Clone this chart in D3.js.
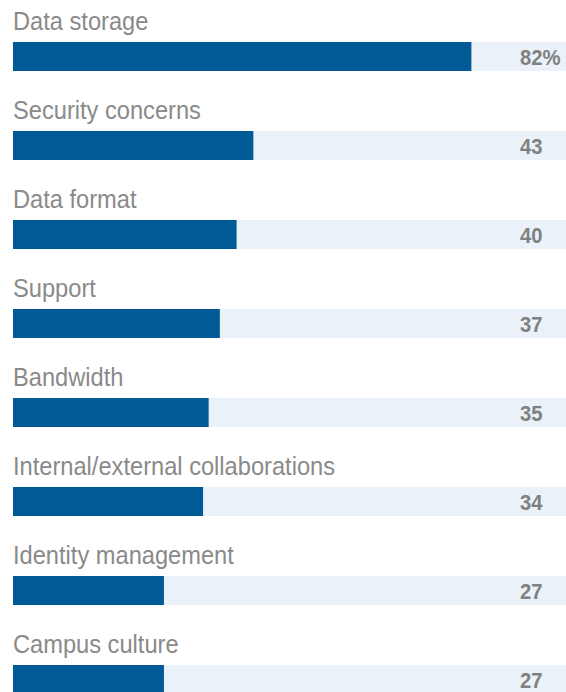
<!DOCTYPE html>
<html>
<head>
<meta charset="utf-8">
<script src="https://cdn.jsdelivr.net/npm/d3@7"></script>
<style>
  html, body { margin: 0; padding: 0; background: #ffffff; }
  svg { display: block; }
</style>
</head>
<body>
<svg id="chart" width="566" height="692"></svg>
<script>
// Survey: top challenges reported (% of respondents)
const categories = [
  "Data storage",
  "Security concerns",
  "Data format",
  "Support",
  "Bandwidth",
  "Internal/external collaborations",
  "Identity management",
  "Campus culture"
];
const values = [82, 43, 40, 37, 35, 34, 27, 27];
const valueLabels = ["82%", "43", "40", "37", "35", "34", "27", "27"];

const width = 566, height = 692;
const svg = d3.select("#chart");

const rowScale = d3.scaleBand()
  .domain(categories)
  .range([0, categories.length * 89])
  .padding(0);

const x = d3.scaleLinear()
  .domain([0, 100])
  .range([13, 572]);

const barTop = 42, barH = 29;
const font = "'Liberation Sans', Arial, sans-serif";
const squeeze = 0.91; // narrow the type horizontally

const rows = svg.selectAll("g.row")
  .data(categories.map((c, i) => ({ c, v: values[i], t: valueLabels[i] })))
  .join("g")
  .attr("class", "row")
  .attr("transform", d => `translate(0,${rowScale(d.c)})`);

// background track
rows.append("rect")
  .attr("x", x(0))
  .attr("y", barTop)
  .attr("width", x(100) - x(0))
  .attr("height", barH)
  .attr("fill", "#eaf1f9");

// value bar
rows.append("rect")
  .attr("x", x(0))
  .attr("y", barTop)
  .attr("width", d => x(d.v) - x(0))
  .attr("height", barH)
  .attr("fill", "#005a96");

// category label
rows.append("text")
  .attr("transform", `translate(13,${barTop - 12}) scale(${squeeze},1)`)
  .attr("font-family", font)
  .attr("font-size", 26)
  .attr("fill", "#8a8a8a")
  .text(d => d.c);

// value label
rows.append("text")
  .attr("transform", `translate(520,${barTop + 22.5}) scale(0.92,1)`)
  .attr("font-family", font)
  .attr("font-weight", "bold")
  .attr("font-size", 22)
  .attr("fill", "#808080")
  .text(d => d.t);
</script>
</body>
</html>
